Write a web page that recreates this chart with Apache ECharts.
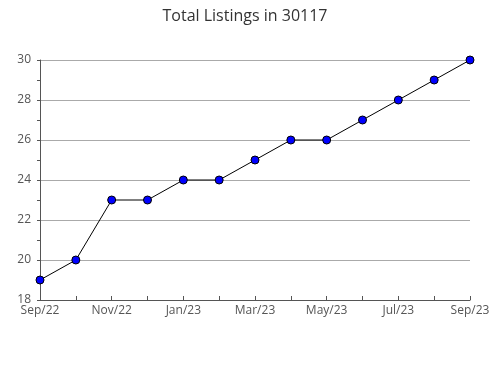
<!DOCTYPE html>
<html><head><meta charset="utf-8">
<script src="https://cdn.jsdelivr.net/npm/echarts@6/dist/echarts.min.js"></script>
<style>html,body{margin:0;padding:0;background:#fff}#c{width:490px;height:380px}</style>
</head><body><div id="c"></div>
<script>
const categories = ['Sep/22','Oct/22','Nov/22','Dec/22','Jan/23','Feb/23','Mar/23','Apr/23','May/23','Jun/23','Jul/23','Aug/23','Sep/23'];
const listings = [19,20,23,23,24,24,25,26,26,27,28,29,30];
const yMin = 18, yMax = 30, yStep = 2;
const titleText = 'Total Listings in 30117';

const chart = echarts.init(document.getElementById('c'), null, {renderer:'canvas'});
chart.setOption({
  animation:false,
  backgroundColor:'#fff',
  title:{text:titleText,left:'center',top:3,textStyle:{fontFamily:'Open Sans',fontSize:16,fontWeight:'normal',color:'#333'}},
  grid:{left:40,right:20,top:60,bottom:80,containLabel:false,outerBoundsMode:'none'},
  xAxis:{type:'category',data:categories,boundaryGap:false,
    axisLine:{lineStyle:{color:'#555',width:1}},
    axisTick:{inside:true,length:4,lineStyle:{color:'#555'},interval:0},
    axisLabel:{interval:1,color:'#555',fontFamily:'Open Sans',fontSize:12,margin:5},
    splitLine:{show:false}},
  yAxis:{type:'value',min:yMin,max:yMax,interval:yStep,
    axisLine:{show:true,lineStyle:{color:'#555',width:1}},
    axisTick:{show:true,length:3,lineStyle:{color:'#555'}},
    minorTick:{show:true,splitNumber:2,length:3,lineStyle:{color:'#555'}},
    axisLabel:{color:'#555',fontFamily:'Open Sans',fontSize:12,margin:9},
    splitLine:{show:true,lineStyle:{color:'#aaa',width:1}}},
  series:[{type:'line',data:listings,symbol:'circle',symbolSize:8,
    lineStyle:{color:'#000',width:1},
    itemStyle:{color:'#0000ff',borderColor:'#000',borderWidth:1}}]
});
</script></body></html>
